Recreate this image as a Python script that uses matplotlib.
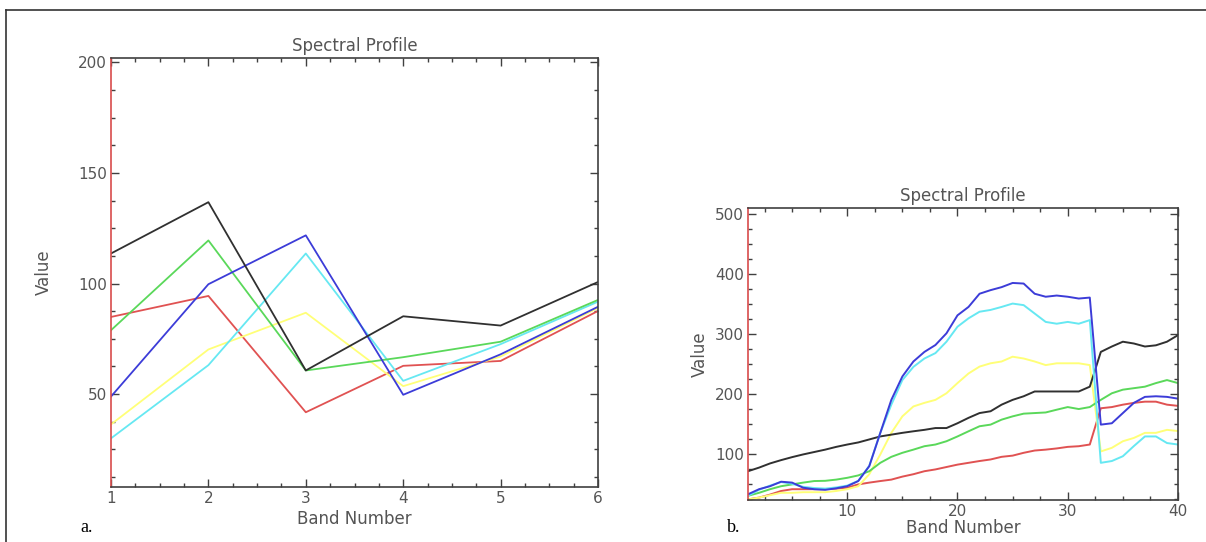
import numpy as np
import matplotlib
matplotlib.use('Agg')
import matplotlib.pyplot as plt
from matplotlib.lines import Line2D
from matplotlib.ticker import MultipleLocator

# --- panel a: 6 band profile ---
bands_a = [1, 2, 3, 4, 5, 6]
a_black = [113.6, 136.8, 60.7, 85.2, 81.0, 100.7]
a_green = [78.9, 119.5, 60.7, 66.7, 73.7, 92.6]
a_blue = [48.9, 99.7, 121.8, 49.7, 68.0, 89.5]
a_cyan = [30.0, 63.1, 113.6, 56.0, 72.6, 91.8]
a_yellow = [36.3, 70.2, 86.8, 53.6, 67.0, 89.0]
a_red = [84.9, 94.4, 41.8, 62.8, 65.0, 87.6]

# --- panel b: 40 band profile ---
bands_b = list(range(1, 41))
b_blue = [32.5, 41, 46, 53.5, 52, 43.5, 41, 40, 42.5, 46,
          54.6, 79.5, 135, 190, 229, 254, 270, 281.5, 301, 331,
          345, 367, 373, 378, 385, 384, 367, 362, 364, 362,
          359, 360.6, 148.7, 151, 168, 185, 195, 196, 195, 192]
b_cyan = [30, 40, 47, 53, 50, 45, 43, 42, 44, 47,
          55, 80, 135, 182, 223, 245, 259, 268, 287, 312,
          326, 337, 340, 345, 350.6, 348, 334, 320, 317, 320,
          317, 323, 85, 88, 96, 113, 129, 129, 118, 115.5]
b_yellow = [24, 27, 31, 35, 35, 36, 36, 36, 38, 41,
            46, 66, 99, 135, 162.5, 179, 185, 190, 201, 218,
            234, 245.5, 251, 254, 262, 259, 254, 248, 251, 251,
            251, 248, 104, 110, 121, 126.5, 135, 135, 140, 138]
b_black = [71, 77, 84, 89.5, 94.5, 99, 103, 107, 111.6, 115.5,
           119, 124, 129, 132, 135, 137.6, 140, 143, 143, 151,
           160, 168, 171, 182, 190, 196, 204, 204, 204, 204,
           204, 212, 270, 279, 287, 284, 279, 281, 287, 298]
b_green = [30, 35, 41, 46, 49, 52, 54.6, 55, 57, 60,
           64, 71, 85, 95, 101.7, 107, 112.7, 115.5, 121, 129,
           137.6, 146, 148.7, 157, 162.5, 167, 168, 169, 173.6, 178,
           174.7, 178, 190, 201, 207, 209.5, 212, 218, 223, 218]
b_red = [24, 27, 32, 38, 41, 41, 41, 41, 42, 43.5,
         49, 52, 54.6, 57, 62, 66, 71, 74, 78, 82,
         85, 88, 90.6, 95, 97, 101.7, 105.5, 107, 109, 111.6,
         112.7, 115.5, 176, 178, 182, 185, 187, 187, 182, 180]

colors = {'black': '#303030', 'green': '#5ad85a', 'blue': '#3c3cd8',
          'cyan': '#66e8f2', 'yellow': '#ffff78', 'red': '#e05252'}

fig = plt.figure(figsize=(12.06, 5.42), dpi=100)

ax_a = fig.add_axes([111 / 1206, 55 / 542, 487 / 1206, 429 / 542])
ax_b = fig.add_axes([748 / 1206, 42 / 542, 430 / 1206, 292 / 542])


def style_axes(ax, xmaj, xmin, ymaj, ymin):
    ax.xaxis.set_major_locator(MultipleLocator(xmaj))
    ax.xaxis.set_minor_locator(MultipleLocator(xmin))
    ax.yaxis.set_major_locator(MultipleLocator(ymaj))
    ax.yaxis.set_minor_locator(MultipleLocator(ymin))
    ax.tick_params(which='both', direction='in', top=True, right=True,
                   color='#404040', width=1.0, labelcolor='#555555',
                   labelsize=11)
    ax.tick_params(which='major', length=6, pad=3)
    ax.tick_params(which='minor', length=3)
    for side in ['top', 'right', 'bottom']:
        ax.spines[side].set_color('#404040')
        ax.spines[side].set_linewidth(1.2)
    ax.spines['left'].set_color('#d84c4c')
    ax.spines['left'].set_linewidth(1.2)
    ax.set_title('Spectral Profile', color='#555555', fontsize=12, pad=5)
    ax.set_xlabel('Band Number', color='#555555', fontsize=12, labelpad=0)
    ax.set_ylabel('Value', color='#555555', fontsize=12)


# panel a
for name, vals in [('red', a_red), ('yellow', a_yellow), ('cyan', a_cyan),
                   ('green', a_green), ('blue', a_blue), ('black', a_black)]:
    ax_a.plot(bands_a, vals, color=colors[name], lw=1.3)
ax_a.set_xlim(1, 6)
ax_a.set_ylim(8, 202)
style_axes(ax_a, 1, 0.25, 50, 12.5)
ax_a.yaxis.labelpad = 18
ax_a.xaxis.labelpad = 3

# panel b
for name, vals in [('red', b_red), ('yellow', b_yellow), ('green', b_green),
                   ('black', b_black), ('cyan', b_cyan), ('blue', b_blue)]:
    ax_b.plot(bands_b, vals, color=colors[name], lw=1.4)
ax_b.set_xlim(1, 40)
ax_b.set_ylim(23, 510)
style_axes(ax_b, 10, 2.5, 100, 25)
ax_b.yaxis.labelpad = 4

# left-side ticks in red like the axis line
for ax in (ax_a, ax_b):
    for tl in ax.yaxis.get_majorticklines()[::2] + ax.yaxis.get_minorticklines()[::2]:
        tl.set_color('#d84c4c')

fig.text(80 / 1206, 1 - 527 / 542, 'a.', family='Liberation Serif',
         fontsize=13, va='center')
fig.text(727 / 1206, 1 - 527 / 542, 'b.', family='Liberation Serif',
         fontsize=13, va='center')

# outer frame (top and left)
fig.add_artist(Line2D([6 / 1206, 1], [1 - 10 / 542, 1 - 10 / 542],
                      transform=fig.transFigure, color='#333333', lw=1.2))
fig.add_artist(Line2D([6 / 1206, 6 / 1206], [0, 1 - 10 / 542],
                      transform=fig.transFigure, color='#333333', lw=1.2))

fig.savefig('out.png', dpi=100)
